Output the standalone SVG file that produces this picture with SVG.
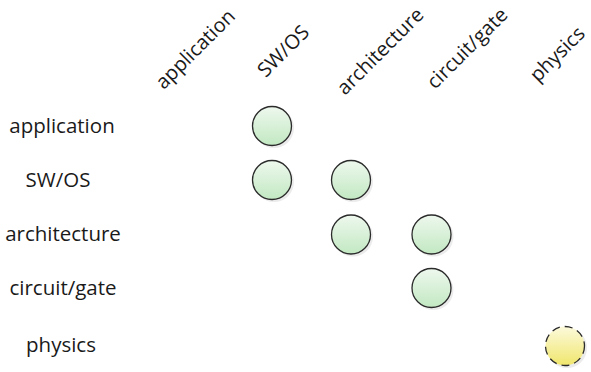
<svg xmlns="http://www.w3.org/2000/svg" width="591" height="372" viewBox="0 0 591 372">
  <defs>
    <linearGradient id="gGreen" x1="0" y1="0" x2="0" y2="1">
      <stop offset="0" stop-color="#eef8ee"/>
      <stop offset="1" stop-color="#c2e8c2"/>
    </linearGradient>
    <linearGradient id="gYellow" x1="0" y1="0" x2="0" y2="1">
      <stop offset="0" stop-color="#fcfadc"/>
      <stop offset="1" stop-color="#f0e66c"/>
    </linearGradient>
  </defs>
  <style>
    text { font-family: "Open Sans", "Liberation Sans", sans-serif; font-size: 20.5px; fill: #1a1a1a; text-anchor: middle; }
    .head { font-size: 20px; }
    .shadow { fill: #000; opacity: 0.08; }
    .cell { fill: url(#gGreen); stroke: #2b2b2b; stroke-width: 1.3; }
    .open { fill: url(#gYellow); stroke: #2b2b2b; stroke-width: 1.3; stroke-dasharray: 8 5; }
  </style>

  <!-- column headings -->
  <g id="col-headings">
    <text class="head" transform="translate(200,54) rotate(-45)">application</text>
    <text class="head" transform="translate(288,56) rotate(-45)">SW/OS</text>
    <text class="head" transform="translate(385,56) rotate(-45)">architecture</text>
    <text class="head" transform="translate(472,53) rotate(-45)">circuit/gate</text>
    <text class="head" transform="translate(562,59) rotate(-45)">physics</text>
  </g>

  <!-- row headings -->
  <g id="row-headings">
    <text x="62" y="133">application</text>
    <text x="58" y="187">SW/OS</text>
    <text x="63" y="241">architecture</text>
    <text x="63" y="295">circuit/gate</text>
    <text x="61" y="352">physics</text>
  </g>

  <!-- matrix cells -->
  <g id="cell-app-sw">
    <circle class="shadow" cx="274" cy="128" r="20"/>
    <circle class="cell" cx="272" cy="126" r="19.5"/>
  </g>
  <g id="cell-sw-sw">
    <circle class="shadow" cx="274" cy="182" r="20"/>
    <circle class="cell" cx="272" cy="180" r="19.5"/>
  </g>
  <g id="cell-sw-arch">
    <circle class="shadow" cx="353" cy="182" r="20"/>
    <circle class="cell" cx="351" cy="180" r="19.5"/>
  </g>
  <g id="cell-arch-arch">
    <circle class="shadow" cx="353" cy="236.5" r="20"/>
    <circle class="cell" cx="351" cy="234.5" r="19.5"/>
  </g>
  <g id="cell-arch-circuit">
    <circle class="shadow" cx="433.5" cy="236.5" r="20"/>
    <circle class="cell" cx="431.5" cy="234.5" r="19.5"/>
  </g>
  <g id="cell-circuit-circuit">
    <circle class="shadow" cx="433.5" cy="290" r="20"/>
    <circle class="cell" cx="431.5" cy="288" r="19.5"/>
  </g>
  <g id="cell-physics-physics">
    <circle class="shadow" cx="567" cy="348" r="20"/>
    <circle class="open" cx="565" cy="346" r="19.5"/>
  </g>

  <g id="connectors"></g>
</svg>
